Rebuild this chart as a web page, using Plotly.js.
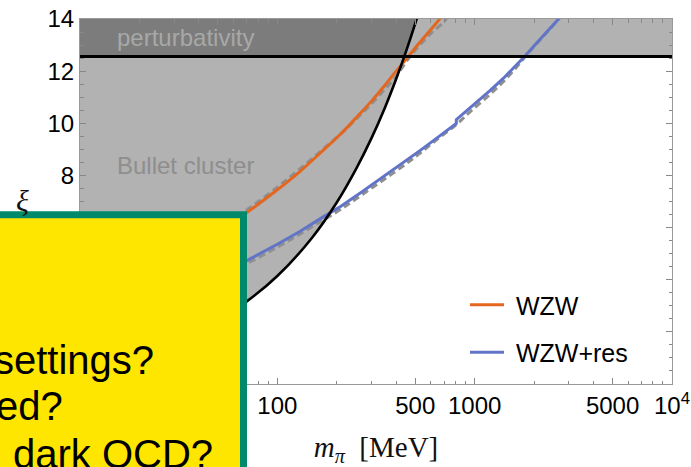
<!DOCTYPE html>
<html>
<head>
<meta charset="utf-8">
<script src="https://cdn.plot.ly/plotly-3.0.1.min.js"></script>
<style>html,body{margin:0;padding:0;background:#fff;}#chart{width:691px;height:467px;}</style>
</head>
<body>
<div id="chart"></div>
<script>
// ---- data ----
const xRangeLog = [1, 4];          // log10 of m_pi range: 10 .. 10^4 MeV
const yRange = [0, 14];            // xi range
const perturbativityBound = 12.566; // 4*pi

// Bullet cluster bound (black curve)
const bulletM  = [10, 20, 30, 50, 70, 100, 150, 200, 250, 300, 350, 400, 450, 500, 550];
const bulletXi = [0.74, 1.24, 1.68, 2.46, 3.17, 4.14, 5.61, 6.96, 8.23, 9.43, 10.58, 11.7, 12.78, 13.83, 14.86];

// WZW (orange)
const wzwM  = [10, 20, 30, 50, 70, 100, 130, 170, 210, 250, 300, 350, 400, 460, 520, 600, 700];
const wzwXi = [3.3, 4.25, 4.9, 5.85, 6.58, 7.45, 8.15, 8.95, 9.6, 10.2, 10.85, 11.45, 12.0, 12.55, 13.05, 13.6, 14.2];
// gray dashed companion of WZW
const wzwApproxM  = [10, 20, 30, 50, 70, 100, 130, 170, 210, 250, 300, 350, 400, 460, 520, 600, 700, 760];
const wzwApproxXi = [3.4, 4.35, 5.0, 5.95, 6.68, 7.55, 8.25, 9.0, 9.6, 10.15, 10.75, 11.3, 11.8, 12.46, 12.95, 13.45, 13.9, 14.3];

// WZW+res (blue)
const resM  = [10, 20, 30, 50, 70, 100, 130, 170, 210, 270, 350, 450, 530, 650, 807, 807, 950, 1200, 1400, 1600, 1800, 2100, 2400, 2700];
const resXi = [2.9, 3.5, 3.9, 4.4, 4.73, 5.36, 5.85, 6.4, 6.82, 7.38, 7.98, 8.57, 8.96, 9.46, 9.99, 10.14, 10.59, 11.26, 11.73, 12.17, 12.58, 13.15, 13.62, 14.05];
// gray dashed companion of WZW+res
const resApproxM  = [10, 20, 30, 50, 70, 100, 130, 170, 210, 270, 350, 450, 530, 650, 807, 950, 1200, 1400, 1600, 1800, 2100, 2400, 2700];
const resApproxXi = [2.8, 3.4, 3.8, 4.3, 4.63, 5.25, 5.75, 6.28, 6.7, 7.27, 7.86, 8.45, 8.86, 9.4, 9.95, 10.45, 11.12, 11.6, 12.08, 12.55, 13.12, 13.6, 14.05];

// ticks
const xTickVals = [10, 50, 100, 500, 1000, 5000, 10000];
const xTickText = ['10', '50', '100', '500', '1000', '5000', '10<sup>4</sup>'];
const xMinorVals = [20, 30, 40, 60, 70, 80, 90, 200, 300, 400, 600, 700, 800, 900, 2000, 3000, 4000, 6000, 7000, 8000, 9000];
const yTickVals = [0, 2, 4, 6, 8, 10, 12, 14];

// ---- layout helpers (pixel -> paper) ----
const W = 691, H = 467;
const M = {l: 80, r: 19, t: 19, b: 83};
const pw = W - M.l - M.r, ph = H - M.t - M.b;
const px = x => (x - M.l) / pw;
const py = y => (H - M.b - y) / ph;

const xMin = Math.pow(10, xRangeLog[0]), xMax = Math.pow(10, xRangeLog[1]);
const shade = 'rgba(0,0,0,0.3)';
const sans = 'Liberation Sans, Arial, sans-serif';
const serif = 'Liberation Serif, DejaVu Serif, serif';

const traces = [
  // Bullet cluster excluded region (left of black curve)
  {x: bulletM.concat([bulletM[bulletM.length-1], bulletM[0]]),
   y: bulletXi.concat([yRange[1], yRange[1]]),
   fill: 'toself', fillcolor: shade, mode: 'lines', line: {width: 0}, hoverinfo: 'skip', showlegend: false},
  // perturbativity region
  {x: [xMin, xMax, xMax, xMin],
   y: [perturbativityBound, perturbativityBound, yRange[1], yRange[1]],
   fill: 'toself', fillcolor: shade, mode: 'lines', line: {width: 0}, hoverinfo: 'skip', showlegend: false},
  // gray dashed curves
  {x: wzwApproxM, y: wzwApproxXi, mode: 'lines', line: {color: '#8f8f8f', width: 3, dash: '7px,4px', shape: 'spline'}, showlegend: false, hoverinfo: 'skip'},
  {x: resApproxM, y: resApproxXi, mode: 'lines', line: {color: '#8f8f8f', width: 3, dash: '7px,4px', shape: 'spline'}, showlegend: false, hoverinfo: 'skip'},
  // colored curves
  {x: wzwM, y: wzwXi, mode: 'lines', name: '&nbsp;WZW', legendgroup: 'a', line: {color: '#e4661f', width: 3, shape: 'spline'}},
  {x: resM, y: resXi, mode: 'lines', name: '&nbsp;WZW+res', legendgroup: 'b', line: {color: '#6174c8', width: 3}},
  // bullet cluster bound & perturbativity line
  {x: bulletM, y: bulletXi, mode: 'lines', line: {color: '#000', width: 2.6, shape: 'spline'}, showlegend: false, hoverinfo: 'skip'},
  {x: [xMin, xMax], y: [perturbativityBound, perturbativityBound], mode: 'lines', line: {color: '#000', width: 3}, showlegend: false, hoverinfo: 'skip'}
];

const axisCommon = {
  showline: true, linecolor: '#999', linewidth: 1, mirror: 'ticks',
  ticks: 'inside', ticklen: 6, tickcolor: '#888', tickwidth: 1,
  showgrid: false, zeroline: false,
  tickfont: {family: sans, size: 24, color: '#000'}
};

const layout = {
  width: W, height: H,
  margin: M,
  paper_bgcolor: '#fff', plot_bgcolor: '#fff',
  showlegend: true,
  xaxis: Object.assign({}, axisCommon, {
    type: 'log', range: xRangeLog, autorange: false,
    tickmode: 'array', tickvals: xTickVals, ticktext: xTickText,
    minor: {tickmode: 'array', tickvals: xMinorVals, ticks: 'inside', ticklen: 3.5, tickcolor: '#888'},
    title: {text: '<i>m</i><sub><i>π</i></sub>&nbsp;&nbsp;[MeV]', font: {family: serif, size: 29, color: '#111'}, standoff: 26}
  }),
  yaxis: Object.assign({}, axisCommon, {
    range: yRange, autorange: false,
    tickmode: 'array', tickvals: yTickVals,
    minor: {dtick: 0.5, ticks: 'inside', ticklen: 3.5, tickcolor: '#888'}
  }),
  legend: {
    x: px(465), y: py(282), xanchor: 'left', yanchor: 'top',
    bgcolor: 'rgba(0,0,0,0)', borderwidth: 0,
    font: {family: sans, size: 25, color: '#000'},
    traceorder: 'grouped', tracegroupgap: 12, itemwidth: 34
  },
  shapes: [
    {type: 'rect', xref: 'paper', yref: 'paper', layer: 'above',
     x0: px(-20), x1: px(243.5), y0: py(500), y1: py(214.7),
     fillcolor: '#ffe600', line: {color: '#00896b', width: 7}}
  ],
  annotations: [
    {xref: 'paper', yref: 'paper', x: px(115), y: py(37), xanchor: 'left', yanchor: 'middle',
     text: 'perturbativity', showarrow: false, font: {family: sans, size: 24, color: '#a8a8a8'}},
    {xref: 'paper', yref: 'paper', x: px(115), y: py(165), xanchor: 'left', yanchor: 'middle',
     text: 'Bullet cluster', showarrow: false, font: {family: sans, size: 24, color: '#8e8e8e'}},
    {xref: 'paper', yref: 'paper', x: px(22), y: py(201), xanchor: 'center', yanchor: 'middle',
     text: '<i>ξ</i>', showarrow: false, font: {family: serif, size: 30, color: '#111'}},
    {xref: 'paper', yref: 'paper', x: px(156), y: py(360), xanchor: 'right', yanchor: 'middle',
     text: 'settings?', showarrow: false, font: {family: sans, size: 40, color: '#000'}},
    {xref: 'paper', yref: 'paper', x: px(65), y: py(406), xanchor: 'right', yanchor: 'middle',
     text: 'ed?', showarrow: false, font: {family: sans, size: 40, color: '#000'}},
    {xref: 'paper', yref: 'paper', x: px(11), y: py(454), xanchor: 'left', yanchor: 'middle',
     text: 'dark QCD?', showarrow: false, font: {family: sans, size: 40, color: '#000'}}
  ]
};

Plotly.newPlot('chart', traces, layout, {displayModeBar: false, staticPlot: true});
</script>
</body>
</html>
